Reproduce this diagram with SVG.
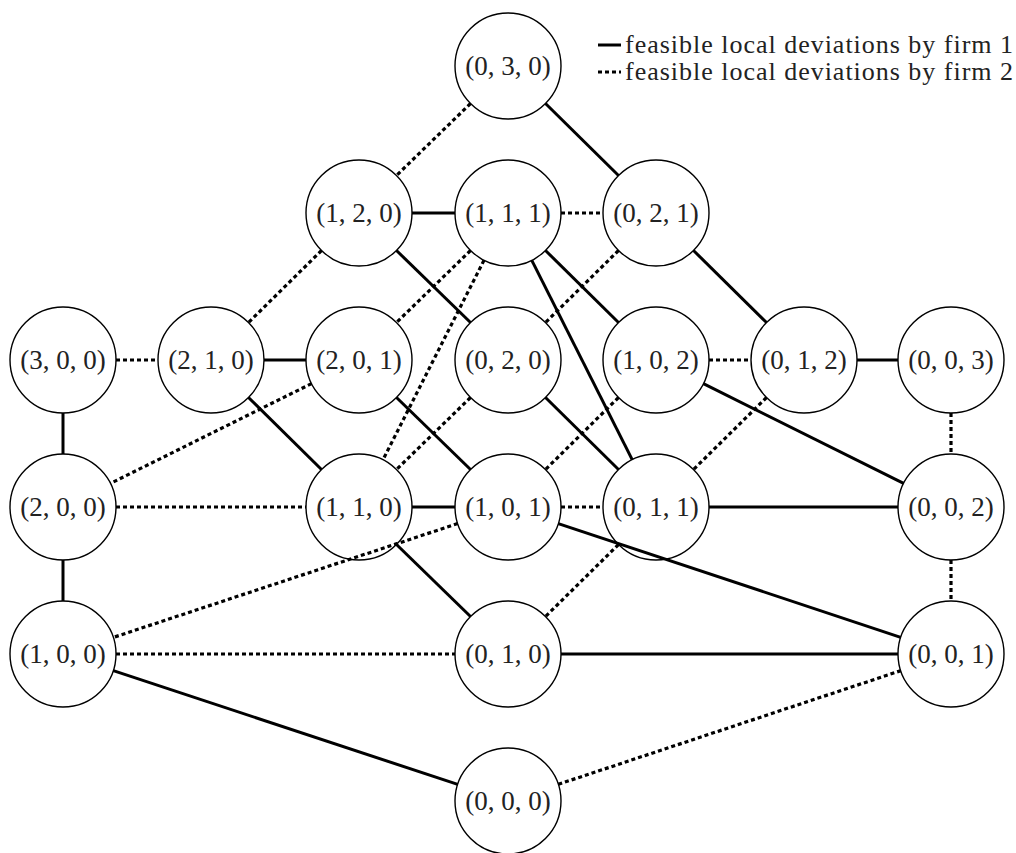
<svg xmlns="http://www.w3.org/2000/svg" width="1016" height="853" viewBox="0 0 1016 853">
<style>
.n circle{fill:#fff;stroke:#000;stroke-width:1.4}
.n text{font-family:"Liberation Serif","DejaVu Serif",serif;font-size:27px;text-anchor:middle;fill:#222}
.s{stroke:#000;stroke-width:3;fill:none}
.d{stroke:#000;stroke-width:3.2;fill:none;stroke-dasharray:4 3}
.lg{font-family:"Liberation Serif","DejaVu Serif",serif;font-size:26px;fill:#222}
</style>
<rect width="1016" height="853" fill="#fff"/>
<g id="nodes">
<g id="n030" class="n"><circle cx="508" cy="66" r="53"/><text x="508" y="75">(0, 3, 0)</text></g>
<g id="n120" class="n"><circle cx="359" cy="213" r="53"/><text x="359" y="222">(1, 2, 0)</text></g>
<g id="n111" class="n"><circle cx="508" cy="213" r="53"/><text x="508" y="222">(1, 1, 1)</text></g>
<g id="n021" class="n"><circle cx="656" cy="213" r="53"/><text x="656" y="222">(0, 2, 1)</text></g>
<g id="n300" class="n"><circle cx="63" cy="360" r="53"/><text x="63" y="369">(3, 0, 0)</text></g>
<g id="n210" class="n"><circle cx="211" cy="360" r="53"/><text x="211" y="369">(2, 1, 0)</text></g>
<g id="n201" class="n"><circle cx="359" cy="360" r="53"/><text x="359" y="369">(2, 0, 1)</text></g>
<g id="n020" class="n"><circle cx="508" cy="360" r="53"/><text x="508" y="369">(0, 2, 0)</text></g>
<g id="n102" class="n"><circle cx="656" cy="360" r="53"/><text x="656" y="369">(1, 0, 2)</text></g>
<g id="n012" class="n"><circle cx="804" cy="360" r="53"/><text x="804" y="369">(0, 1, 2)</text></g>
<g id="n003" class="n"><circle cx="951" cy="360" r="53"/><text x="951" y="369">(0, 0, 3)</text></g>
<g id="n200" class="n"><circle cx="63" cy="507" r="53"/><text x="63" y="516">(2, 0, 0)</text></g>
<g id="n110" class="n"><circle cx="359" cy="507" r="53"/><text x="359" y="516">(1, 1, 0)</text></g>
<g id="n101" class="n"><circle cx="508" cy="507" r="53"/><text x="508" y="516">(1, 0, 1)</text></g>
<g id="n011" class="n"><circle cx="656" cy="507" r="53"/><text x="656" y="516">(0, 1, 1)</text></g>
<g id="n002" class="n"><circle cx="951" cy="507" r="53"/><text x="951" y="516">(0, 0, 2)</text></g>
<g id="n100" class="n"><circle cx="63" cy="654" r="53"/><text x="63" y="663">(1, 0, 0)</text></g>
<g id="n010" class="n"><circle cx="508" cy="654" r="53"/><text x="508" y="663">(0, 1, 0)</text></g>
<g id="n001" class="n"><circle cx="951" cy="654" r="53"/><text x="951" y="663">(0, 0, 1)</text></g>
<g id="n000" class="n"><circle cx="508" cy="801" r="53"/><text x="508" y="810">(0, 0, 0)</text></g>
</g>
<g id="connectors">
<line class="s" x1="545.5" y1="103.5" x2="618.5" y2="175.5"/>
<line class="s" x1="412" y1="213" x2="455" y2="213"/>
<line class="s" x1="396.5" y1="250.5" x2="470.5" y2="322.5"/>
<line class="s" x1="545.5" y1="250.5" x2="618.5" y2="322.5"/>
<line class="s" x1="531.8" y1="260.3" x2="632.2" y2="459.7"/>
<line class="s" x1="693.5" y1="250.5" x2="766.5" y2="322.5"/>
<line class="s" x1="264" y1="360" x2="306" y2="360"/>
<line class="s" x1="248.5" y1="397.5" x2="321.5" y2="469.5"/>
<line class="s" x1="396.5" y1="397.5" x2="470.5" y2="469.5"/>
<line class="s" x1="545.5" y1="397.5" x2="618.5" y2="469.5"/>
<line class="s" x1="857" y1="360" x2="898" y2="360"/>
<line class="s" x1="703.4" y1="383.6" x2="903.6" y2="483.4"/>
<line class="s" x1="63" y1="413" x2="63" y2="454"/>
<line class="s" x1="63" y1="560" x2="63" y2="601"/>
<line class="s" x1="412" y1="507" x2="455" y2="507"/>
<line class="s" x1="396.5" y1="544.5" x2="470.5" y2="616.5"/>
<line class="s" x1="558.3" y1="523.7" x2="900.7" y2="637.3"/>
<line class="s" x1="709" y1="507" x2="898" y2="507"/>
<line class="s" x1="561" y1="654" x2="898" y2="654"/>
<line class="s" x1="113.3" y1="670.6" x2="457.7" y2="784.4"/>
<line class="d" x1="470.5" y1="103.5" x2="396.5" y2="175.5"/>
<line class="d" x1="561" y1="213" x2="603" y2="213"/>
<line class="d" x1="321.5" y1="250.5" x2="248.5" y2="322.5"/>
<line class="d" x1="470.5" y1="250.5" x2="396.5" y2="322.5"/>
<line class="d" x1="484" y1="260.3" x2="383" y2="459.7"/>
<line class="d" x1="618.5" y1="250.5" x2="545.5" y2="322.5"/>
<line class="d" x1="311.5" y1="383.6" x2="110.5" y2="483.4"/>
<line class="d" x1="116" y1="360" x2="158" y2="360"/>
<line class="d" x1="709" y1="360" x2="751" y2="360"/>
<line class="d" x1="470.5" y1="397.5" x2="396.5" y2="469.5"/>
<line class="d" x1="618.5" y1="397.5" x2="545.5" y2="469.5"/>
<line class="d" x1="766.5" y1="397.5" x2="693.5" y2="469.5"/>
<line class="d" x1="951" y1="413" x2="951" y2="454"/>
<line class="d" x1="116" y1="507" x2="306" y2="507"/>
<line class="d" x1="561" y1="507" x2="603" y2="507"/>
<line class="d" x1="951" y1="560" x2="951" y2="601"/>
<line class="d" x1="457.7" y1="523.6" x2="113.3" y2="637.4"/>
<line class="d" x1="618.5" y1="544.5" x2="545.5" y2="616.5"/>
<line class="d" x1="116" y1="654" x2="455" y2="654"/>
<line class="d" x1="558.3" y1="784.3" x2="900.7" y2="670.7"/>
</g>
<g id="legend">
<line class="s" x1="598" y1="45" x2="621" y2="45"/>
<text class="lg" x="625" y="53" textLength="388" lengthAdjust="spacing">feasible local deviations by firm 1</text>
<line class="d" x1="598" y1="72" x2="621" y2="72"/>
<text class="lg" x="625" y="80" textLength="388" lengthAdjust="spacing">feasible local deviations by firm 2</text>
</g>
</svg>
